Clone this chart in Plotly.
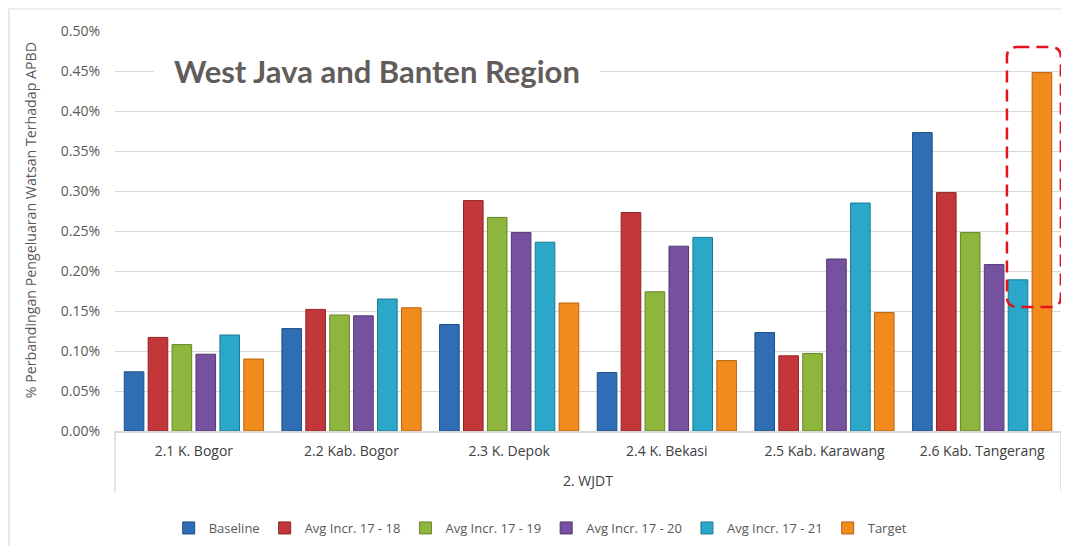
import plotly.graph_objects as go

# ---- data ----
region = "2. WJDT"
categories = ["2.1 K. Bogor", "2.2 Kab. Bogor", "2.3 K. Depok", "2.4 K. Bekasi",
              "2.5 Kab. Karawang", "2.6 Kab. Tangerang"]
series_names = ["Baseline", "Avg Incr. 17 - 18", "Avg Incr. 17 - 19",
                "Avg Incr. 17 - 20", "Avg Incr. 17 - 21", "Target"]
baseline = [0.074, 0.128, 0.133, 0.073, 0.123, 0.373]
incr_17_18 = [0.117, 0.152, 0.288, 0.273, 0.094, 0.298]
incr_17_19 = [0.108, 0.145, 0.267, 0.174, 0.097, 0.248]
incr_17_20 = [0.096, 0.144, 0.248, 0.231, 0.215, 0.208]
incr_17_21 = [0.120, 0.165, 0.236, 0.242, 0.285, 0.189]
target = [0.090, 0.154, 0.160, 0.088, 0.148, 0.448]
y_ticks = [0.00, 0.05, 0.10, 0.15, 0.20, 0.25, 0.30, 0.35, 0.40, 0.45, 0.50]

title_text = "West Java and Banten Region"
y_title = "% Perbandingan Pengeluaran Watsan Terhadap APBD"

# highlighted bar (Target of Kab. Tangerang)
highlight_cat = 5
highlight_series = 5

# ---- styles ----
colors = ["#2F6EB5", "#C3373A", "#8FB63C", "#7551A0", "#2AA7C9", "#F28B1E"]
edges = ["#1F4E85", "#8E2426", "#66852A", "#523873", "#1D7A93", "#B8620F"]
bargap = 0.09
bargroupgap = 0.18
font_family = "'Open Sans', sans-serif"
text_col = "#595959"
y_min, y_max = 0.0, 0.5

all_series = [baseline, incr_17_18, incr_17_19, incr_17_20, incr_17_21, target]

fig = go.Figure()
for name, vals, c, e in zip(series_names, all_series, colors, edges):
    fig.add_trace(go.Bar(
        x=categories, y=vals, name=name,
        marker=dict(color=c, line=dict(color=e, width=1)),
    ))

n = len(categories)


def ypaper(v):
    return (v - y_min) / (y_max - y_min)


# dashed highlight box around the highlighted bar (paper coordinates)
slot = (1 - bargap) / len(all_series)
bar_offset = -(1 - bargap) / 2 + slot * (highlight_series + 0.5)
cx = (highlight_cat + 0.5 + bar_offset) / n - 0.0085
hw = 0.0285
x0, x1 = cx - hw, cx + hw
y0 = ypaper(target[highlight_cat] - 0.293)
y1 = ypaper(target[highlight_cat] + 0.032)
rx, ry = 0.011, 0.025
path = (f"M {x0+rx},{y1} L {x1-rx},{y1} Q {x1},{y1} {x1},{y1-ry} "
        f"L {x1},{y0+ry} Q {x1},{y0} {x1-rx},{y0} L {x0+rx},{y0} "
        f"Q {x0},{y0} {x0},{y0+ry} L {x0},{y1-ry} Q {x0},{y1} {x0+rx},{y1} Z")
fig.add_shape(type="path", path=path, xref="paper", yref="paper",
              line=dict(color="#E3121B", width=2.5, dash="12px,7px"),
              layer="above")

# chart area frame
fig.add_shape(type="rect", xref="paper", yref="paper",
              x0=-0.112, x1=1.03, y0=-0.35, y1=1.055,
              line=dict(color="#D9D9D9", width=1.2), layer="below")

# category axis box: end dividers
for xd in (0, 1):
    fig.add_shape(type="line", xref="x domain", yref="paper",
                  x0=xd, x1=xd, y0=0, y1=-0.152,
                  line=dict(color="#D9D9D9", width=1.5))

# group label
fig.add_annotation(text=region, xref="paper", yref="paper", x=0.5, y=-0.124,
                   xanchor="center", yanchor="middle", showarrow=False,
                   font=dict(size=14, color="#404040"))

# y-axis title
fig.add_annotation(text=y_title, xref="paper", yref="paper", x=-0.0899,
                   y=0.527, xanchor="center", yanchor="middle",
                   textangle=-90, showarrow=False,
                   font=dict(size=14.2, color=text_col))

# in-chart title
fig.add_annotation(
    text=f"<b>{title_text}</b>", xref="paper", yref="y",
    x=0.04, y=0.45, xanchor="left", yanchor="middle", showarrow=False,
    font=dict(family="Lato, sans-serif", size=31, color="#625C5A"),
    bgcolor="white", borderpad=20,
)

# page body has an 8px margin: size figure so the plot lands where intended
fig.update_layout(
    width=1061, height=538,
    margin=dict(l=107, r=8, t=23, b=115, autoexpand=False),
    paper_bgcolor="white", plot_bgcolor="white",
    barmode="group", bargap=bargap, bargroupgap=bargroupgap,
    font=dict(family=font_family, size=13, color=text_col),
    showlegend=True,
    legend=dict(orientation="h", x=0.45, xanchor="center", y=-0.2425,
                yanchor="middle", font=dict(size=13, color=text_col),
                itemwidth=30, traceorder="normal"),
)
fig.update_yaxes(
    range=[y_min, y_max], tickvals=y_ticks,
    ticktext=[f"{v:.2f}%" for v in y_ticks],
    showgrid=True, gridcolor="#D9D9D9", gridwidth=1,
    zeroline=False, showline=False, ticks="", automargin=False,
    tickfont=dict(size=14, color=text_col), ticklabelstandoff=14,
)
fig.update_xaxes(
    type="category", showline=True, linecolor="#D9D9D9", linewidth=1.5,
    tickfont=dict(size=14, color="#404040"), ticks="", automargin=False,
    ticklabelstandoff=6,
)

fig.write_html("out.html")
